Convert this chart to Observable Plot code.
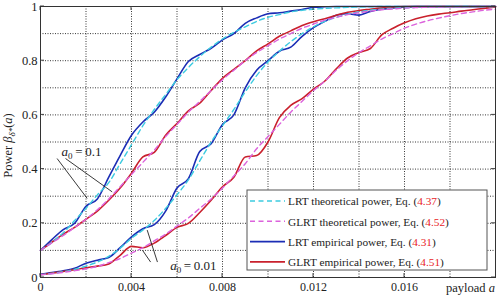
<!DOCTYPE html>
<html><head><meta charset="utf-8">
<script src="https://cdn.jsdelivr.net/npm/d3@7"></script>
<script src="https://cdn.jsdelivr.net/npm/@observablehq/plot@0.6"></script>
<style>
html,body{margin:0;padding:0;background:#fff;}
#chart{width:497px;height:295px;}
</style></head><body><div id="chart"></div>
<script>
// payload a (x values)
const payload = [0,0.0005,0.001,0.0015,0.002,0.0025,0.003,0.0035,0.004,0.0045,
  0.005,0.0055,0.006,0.0065,0.007,0.0075,0.008,0.0085,0.009,0.0095,
  0.01,0.0105,0.011,0.0115,0.012,0.0125,0.013,0.0135,0.014,0.0145,
  0.015,0.0155,0.016,0.0165,0.017,0.0175,0.018,0.0185,0.019,0.0195,0.02];

// a0 = 0.1
const lrtTheo01 = [0.1,0.13,0.165,0.21,0.255,0.305,0.35,0.42,0.49,0.56,
  0.62,0.675,0.73,0.775,0.815,0.85,0.88,0.905,0.925,0.945,
  0.96,0.97,0.98,0.986,0.99,0.993,0.995,0.997,0.998,0.999,
  1,1,1,1,1,1,1,1,1,1,1];
const lrtEmp01 = [0.1,0.14,0.177,0.2,0.263,0.29,0.37,0.45,0.525,0.574,
  0.61,0.666,0.733,0.797,0.823,0.846,0.877,0.9,0.938,0.958,
  0.973,0.977,0.983,0.989,0.997,0.999,1,1,1,1,
  1,1,1,1,1,1,1,1,1,1,1];
const glrtTheo01 = [0.1,0.128,0.155,0.185,0.215,0.25,0.29,0.335,0.38,0.425,
  0.47,0.52,0.565,0.61,0.65,0.69,0.73,0.765,0.8,0.83,
  0.855,0.88,0.9,0.92,0.935,0.95,0.96,0.97,0.977,0.983,
  0.988,0.991,0.994,0.996,0.997,0.998,0.999,0.999,1,1,1];
const glrtEmp01 = [0.1,0.13,0.16,0.185,0.215,0.245,0.285,0.33,0.385,0.445,
  0.462,0.525,0.568,0.615,0.643,0.69,0.735,0.768,0.8,0.836,
  0.862,0.89,0.91,0.93,0.944,0.955,0.968,0.979,0.985,0.99,
  0.995,0.998,1,1,1,1,1,1,1,1,1];

// a0 = 0.01
const lrtTheo001 = [0.01,0.015,0.021,0.03,0.042,0.057,0.078,0.108,0.145,0.175,
  0.21,0.255,0.305,0.36,0.43,0.5,0.56,0.62,0.685,0.745,
  0.795,0.835,0.87,0.9,0.925,0.945,0.96,0.972,0.98,0.986,
  0.99,0.993,0.995,0.997,0.998,0.999,1,1,1,1,1];
const lrtEmp001 = [0.012,0.018,0.025,0.034,0.053,0.064,0.074,0.11,0.15,0.18,
  0.195,0.245,0.33,0.365,0.465,0.494,0.565,0.6,0.7,0.765,
  0.8,0.835,0.85,0.89,0.922,0.945,0.968,0.973,0.968,0.982,
  0.99,0.995,0.998,1,1,1,1,1,1,1,1];
const glrtTheo001 = [0.01,0.014,0.019,0.025,0.032,0.041,0.055,0.07,0.09,0.11,
  0.135,0.16,0.19,0.22,0.255,0.29,0.33,0.375,0.42,0.475,
  0.52,0.565,0.61,0.65,0.69,0.725,0.765,0.8,0.83,0.855,
  0.88,0.9,0.92,0.935,0.947,0.957,0.966,0.974,0.98,0.986,0.99];
const glrtEmp001 = [0.01,0.016,0.022,0.029,0.036,0.042,0.05,0.082,0.115,0.11,
  0.127,0.155,0.185,0.2,0.24,0.285,0.335,0.37,0.445,0.45,
  0.5,0.59,0.635,0.66,0.695,0.725,0.77,0.81,0.83,0.845,
  0.895,0.92,0.94,0.955,0.965,0.972,0.977,0.983,0.988,0.993,0.998];

// axes
const xTicks = [0,0.004,0.008,0.012,0.016];
const xTickLabels = ["0","0.004","0.008","0.012","0.016"];
const xGrid = [0.002,0.004,0.006,0.008,0.01,0.012,0.014,0.016,0.018];
const yTicks = [0,0.2,0.4,0.6,0.8,1];
const yTickLabels = ["0","0.2","0.4","0.6","0.8","1"];
const yGrid = [0.1,0.2,0.3,0.4,0.5,0.6,0.7,0.8,0.9];

// legend
const legendNames = ["LRT theoretical power, Eq. (","GLRT theoretical power, Eq. (","LRT empirical power, Eq. (","GLRT empirical power, Eq. ("];
const legendEqs = ["4.37","4.52","4.31","4.51"];

// annotations (data units)
const annoText = [{a:0.00095,p:0.447,label:"0.1"},{a:0.00572,p:0.024,label:"0.01"}];
const leaders = [
  {a1:0.00073,p1:0.439,a2:0.00205,p2:0.292},
  {a1:0.0011,p1:0.439,a2:0.00315,p2:0.316},
  {a1:0.00469,p1:0.175,a2:0.00514,p2:0.057},
  {a1:0.00448,p1:0.101,a2:0.00484,p2:0.057}
];

const BLUE="#1b2db5", RED="#c9202c", CYAN="#3ccbe0", MAGENTA="#dc62dc";
const series = [
  {id:"lrtEmp01", kind:"emp", test:"LRT", v:lrtEmp01},
  {id:"lrtEmp001", kind:"emp", test:"LRT", v:lrtEmp001},
  {id:"glrtEmp01", kind:"emp", test:"GLRT", v:glrtEmp01},
  {id:"glrtEmp001", kind:"emp", test:"GLRT", v:glrtEmp001},
  {id:"lrtTheo01", kind:"theo", test:"LRT", v:lrtTheo01},
  {id:"lrtTheo001", kind:"theo", test:"LRT", v:lrtTheo001},
  {id:"glrtTheo01", kind:"theo", test:"GLRT", v:glrtTheo01},
  {id:"glrtTheo001", kind:"theo", test:"GLRT", v:glrtTheo001}
];
const rows = series.flatMap(s => s.v.map((p,i)=>({a:payload[i], p, id:s.id, kind:s.kind, test:s.test})));
const sel = (k,t) => rows.filter(r => r.kind===k && r.test===t);

const FONT = "Liberation Serif";
const plot = Plot.plot({
  width:497, height:295,
  marginLeft:40, marginRight:2, marginTop:6, marginBottom:18,
  style:{fontFamily:FONT, fontSize:"12px", background:"#fff", color:"#222"},
  x:{domain:[0,0.02]},
  y:{domain:[0,1]},
  marks:[
    Plot.gridX(xGrid,{stroke:"#222", strokeOpacity:0.9, strokeDasharray:"1,1.5"}),
    Plot.gridY(yGrid,{stroke:"#222", strokeOpacity:0.9, strokeDasharray:"1,1.5"}),
    Plot.line(sel("emp","LRT"),{x:"a", y:"p", z:"id", stroke:BLUE, strokeWidth:1.6, curve:"monotone-x"}),
    Plot.line(sel("emp","GLRT"),{x:"a", y:"p", z:"id", stroke:RED, strokeWidth:1.6, curve:"monotone-x"}),
    Plot.line(sel("theo","LRT"),{x:"a", y:"p", z:"id", stroke:CYAN, strokeWidth:1.4, strokeDasharray:"5,3.5", curve:"monotone-x"}),
    Plot.line(sel("theo","GLRT"),{x:"a", y:"p", z:"id", stroke:MAGENTA, strokeWidth:1.4, strokeDasharray:"5,3.5", curve:"monotone-x"}),
    Plot.link(leaders,{x1:"a1", y1:"p1", x2:"a2", y2:"p2", stroke:"#222", strokeWidth:0.9}),
    Plot.frame({stroke:"#333", strokeWidth:1}),
    Plot.axisX(xTicks,{tickSize:0, tickPadding:5, label:null, tickFormat:d=>xTickLabels[xTicks.indexOf(d)], fontSize:12}),
    Plot.axisY(yTicks,{tickSize:0, tickPadding:3, label:null, tickFormat:d=>yTickLabels[yTicks.indexOf(d)], fontSize:12.5})
  ]
});
document.getElementById("chart").appendChild(plot);

const xs = plot.scale("x"), ys = plot.scale("y");
const svg = d3.select(plot);
const X0 = xs.range[0], X1 = xs.range[1], Y0 = ys.range[0], Y1 = ys.range[1];

// inward ticks
const tg = svg.append("g").attr("stroke","#333").attr("stroke-width",0.9);
xTicks.forEach(t => { const x = xs.apply(t); tg.append("line").attr("x1",x).attr("x2",x).attr("y1",Y0).attr("y2",Y0-4); tg.append("line").attr("x1",x).attr("x2",x).attr("y1",Y1).attr("y2",Y1+4); });
yTicks.forEach(t => { const y = ys.apply(t); tg.append("line").attr("x1",X0).attr("x2",X0+4).attr("y1",y).attr("y2",y); tg.append("line").attr("x1",X1).attr("x2",X1-4).attr("y1",y).attr("y2",y); });

// x label
const xl = svg.append("text").attr("x",X1).attr("y",Y0+15).attr("text-anchor","end")
  .attr("font-family",FONT).attr("font-size",12.5).attr("fill","#222");
xl.append("tspan").text("payload ");
xl.append("tspan").attr("font-style","italic").text("a");

// y label
const yl = svg.append("text").attr("transform",`translate(12,${(Y0+Y1)/2+4}) rotate(-90)`)
  .attr("text-anchor","middle").attr("font-family",FONT).attr("font-size",12.5).attr("fill","#222");
yl.append("tspan").text("Power ");
yl.append("tspan").attr("font-style","italic").text("β");
yl.append("tspan").attr("font-style","italic").attr("font-size",9).attr("dy",3).text("δ*");
yl.append("tspan").attr("dy",-3).text("(");
yl.append("tspan").attr("font-style","italic").text("a");
yl.append("tspan").text(")");

// annotations a0 = ...
annoText.forEach(d => {
  const t = svg.append("text").attr("x",xs.apply(d.a)).attr("y",ys.apply(d.p))
    .attr("text-anchor","start")
    .attr("font-family",FONT).attr("font-size",13).attr("fill","#222");
  t.append("tspan").attr("font-style","italic").text("a");
  t.append("tspan").attr("font-size",9).attr("dy",3).text("0");
  t.append("tspan").attr("dy",-3).text("\u2009=\u2009" + d.label);
});

// legend
const lx = 247, ly = 190, lw = 240, lh = 80;
const lg = svg.append("g").attr("text-anchor","start");
lg.append("rect").attr("x",lx).attr("y",ly).attr("width",lw).attr("height",lh)
  .attr("fill","#fff").attr("stroke","#555").attr("stroke-width",1);
const legStyles = [
  {c:CYAN, d:"5,3.5", w:1.4}, {c:MAGENTA, d:"5,3.5", w:1.4},
  {c:BLUE, d:null, w:1.6}, {c:RED, d:null, w:1.6}
];
legendNames.forEach((n,i) => {
  const y = ly + 11 + i*20.3;
  const l = lg.append("line").attr("x1",lx+3).attr("x2",lx+38).attr("y1",y).attr("y2",y)
    .attr("stroke",legStyles[i].c).attr("stroke-width",legStyles[i].w);
  if (legStyles[i].d) l.attr("stroke-dasharray",legStyles[i].d);
  const t = lg.append("text").attr("x",lx+41).attr("y",y+4.2).attr("text-anchor","start")
    .attr("font-family",FONT).attr("font-size",11.3).attr("fill","#222");
  t.append("tspan").text(n);
  t.append("tspan").attr("fill","#e8231f").text(legendEqs[i]);
  t.append("tspan").text(")");
});
</script></body></html>
